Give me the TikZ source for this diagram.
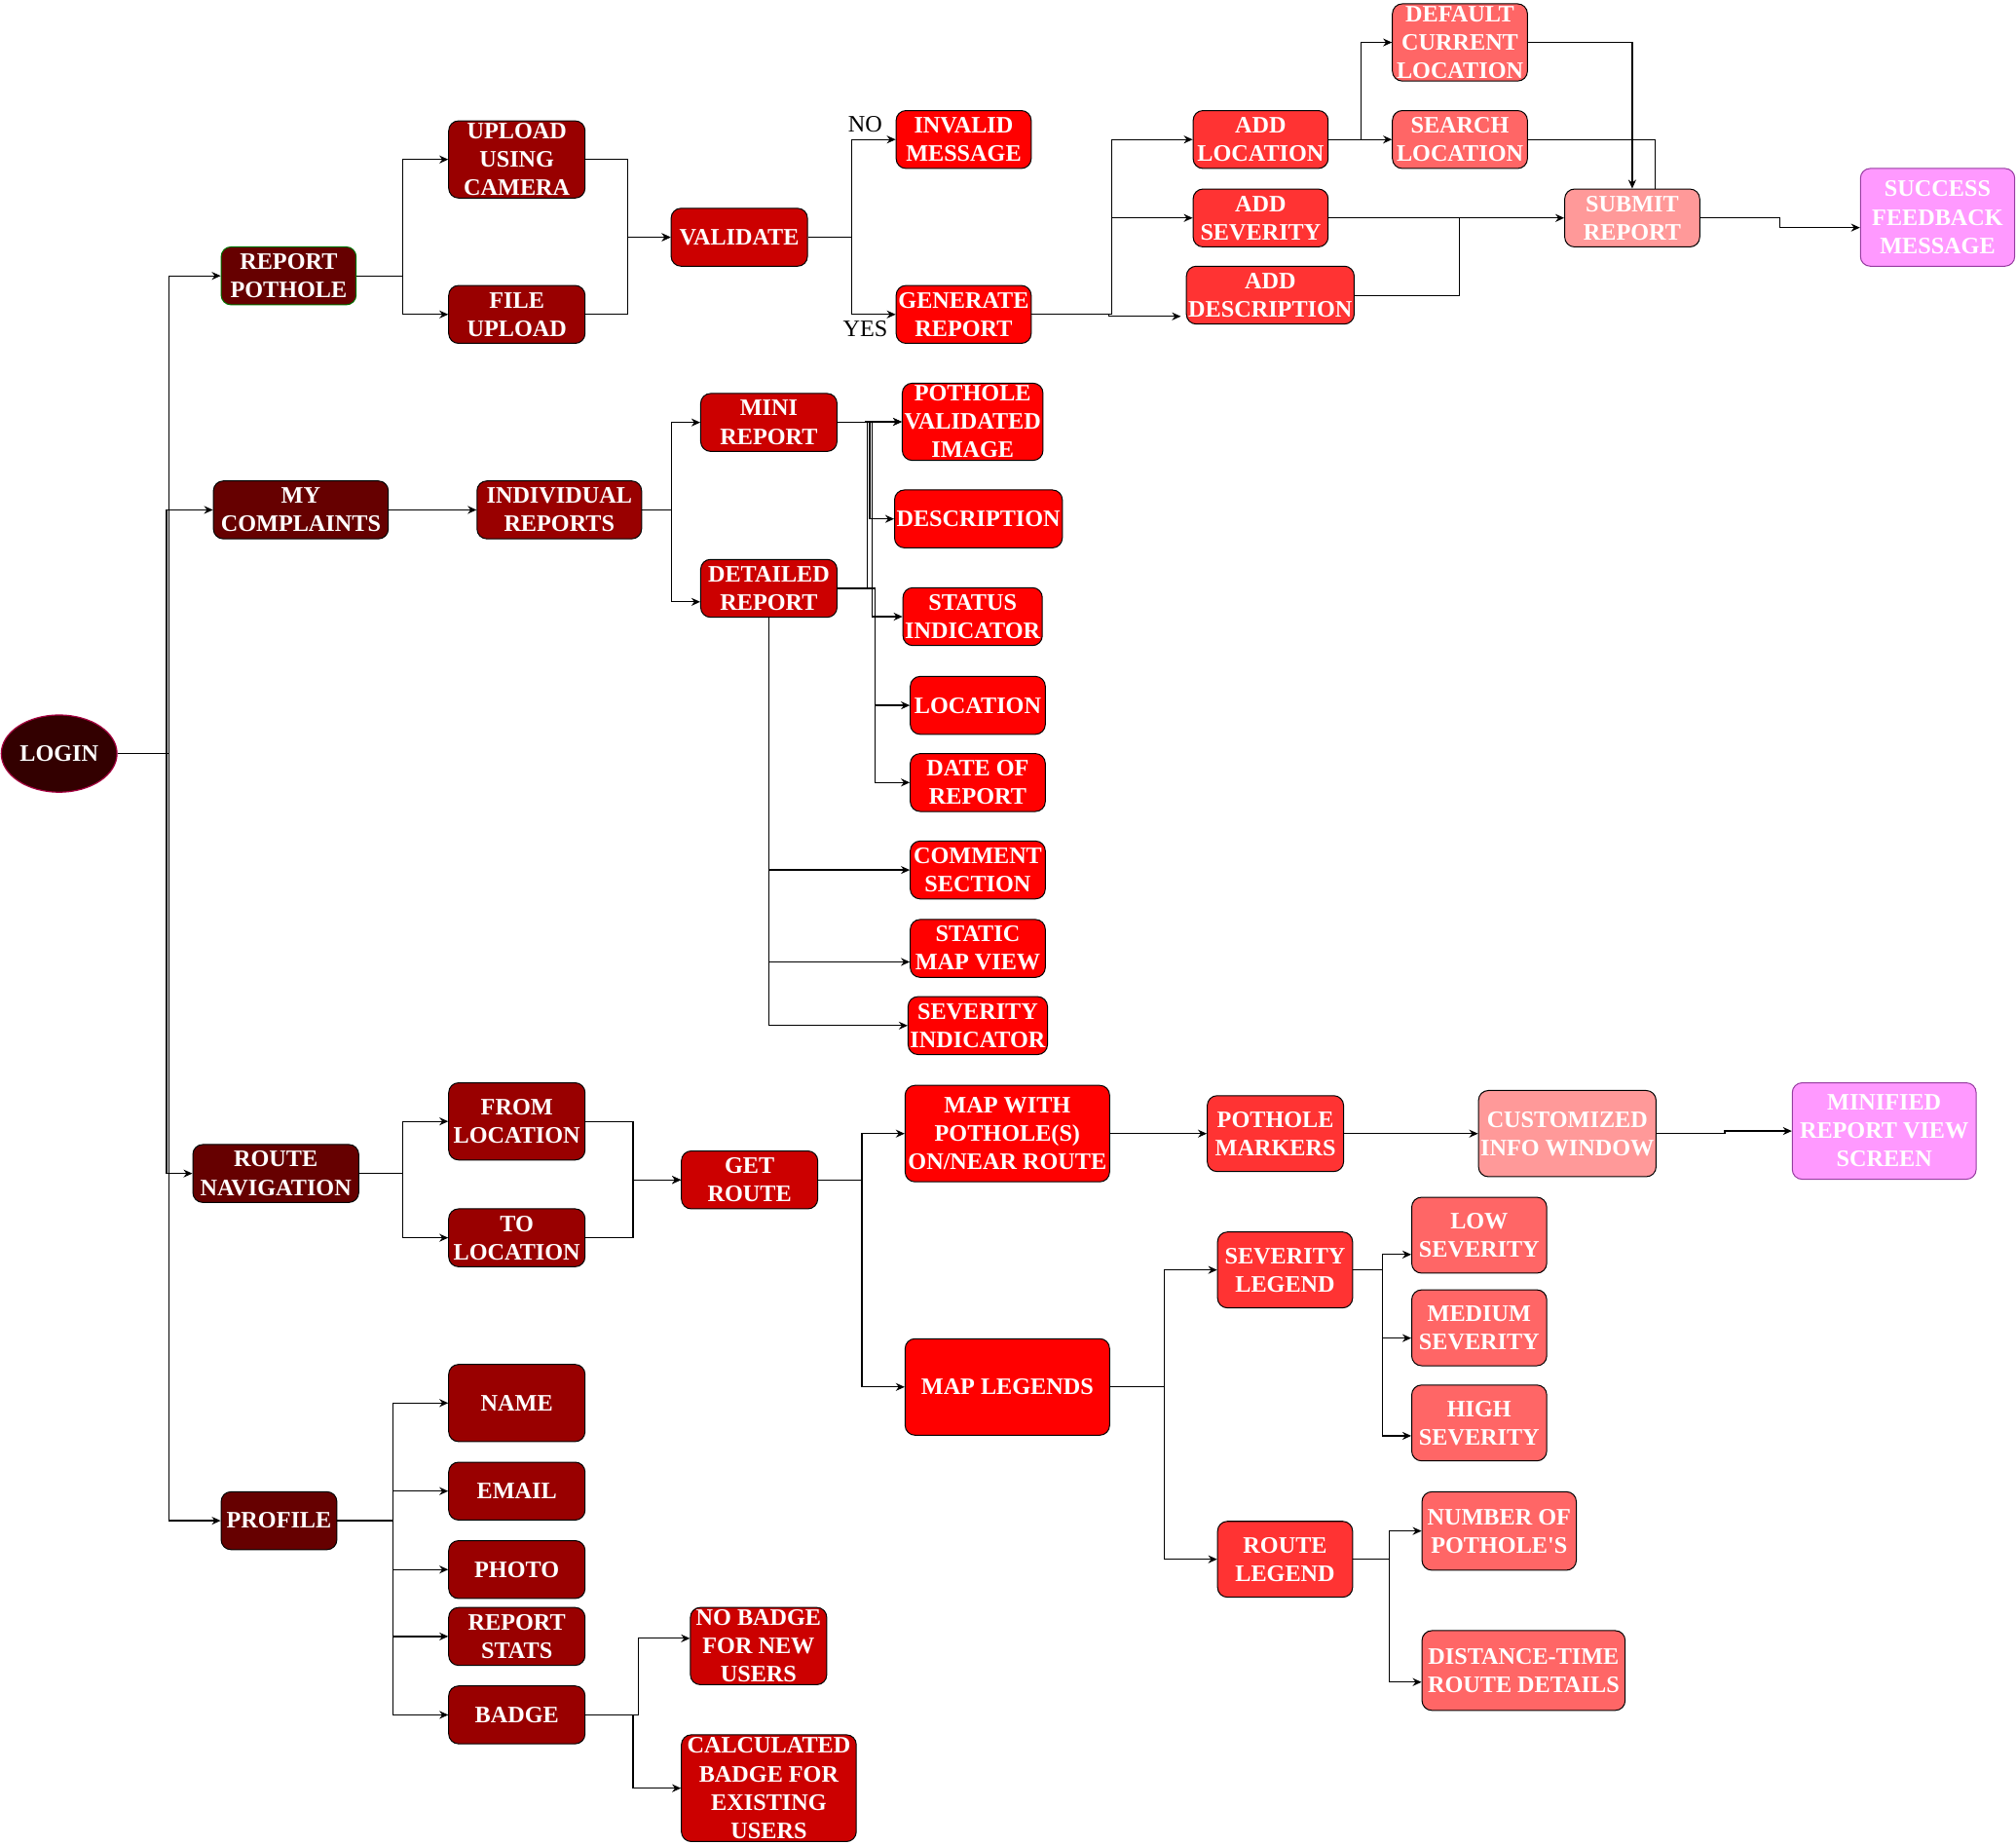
\documentclass[tikz,border=0pt]{standalone}
\usepackage{fontspec}
\setmainfont{Liberation Serif}
\usetikzlibrary{arrows.meta, calc, positioning, shapes.geometric}
\definecolor{loginfill}{RGB}{51,0,0}
\definecolor{loginedge}{RGB}{165,0,64}
\definecolor{lvonecol}{RGB}{102,0,0}
\definecolor{lvtwocol}{RGB}{153,0,0}
\definecolor{lvthreecol}{RGB}{204,0,0}
\definecolor{lvfourcol}{RGB}{255,0,0}
\definecolor{lvfivecol}{RGB}{255,51,51}
\definecolor{lvsixcol}{RGB}{255,102,102}
\definecolor{lvsevencol}{RGB}{255,153,153}
\definecolor{lveightcol}{RGB}{255,153,255}
\definecolor{pinkedge}{RGB}{150,60,160}

\begin{document}
\begin{tikzpicture}[x=0.023cm, y=-0.023cm, >={Stealth[length=4.5pt,width=4pt]},
    screen/.style={draw=black, line width=0.5pt, rounded corners=5pt, text=white, align=center,
        inner sep=1pt, font=\bfseries\fontsize{12}{14.4}\selectfont},
    sz/.style 2 args={minimum width=#1*0.023cm, minimum height=#2*0.023cm},
    lvone/.style={screen, fill=lvonecol},
    lvtwo/.style={screen, fill=lvtwocol},
    lvthree/.style={screen, fill=lvthreecol},
    lvfour/.style={screen, fill=lvfourcol},
    lvfive/.style={screen, fill=lvfivecol},
    lvsix/.style={screen, fill=lvsixcol},
    lvseven/.style={screen, fill=lvsevencol},
    lveight/.style={screen, fill=lveightcol, draw=pinkedge},
    tag/.style={inner sep=0pt, font=\fontsize{12}{14.4}\selectfont},
    link/.style={->, line width=0.6pt},
    elbow/.style={to path={-- ++(#1,0) |- (\tikztotarget) \tikztonodes}}]
    \useasboundingbox (0,0) rectangle (1568,1434);

    % Login
    \node[ellipse, draw=loginedge, fill=loginfill, text=white, inner sep=0pt, line width=0.6pt,
        font=\bfseries\fontsize{12}{14.4}\selectfont, sz={90}{60}] (login) at (46,586) {LOGIN};

    % Main menu
    \node[lvone, draw=green!45!black, sz={105}{45}] (report) at (224.5,214.5) {REPORT\\POTHOLE};
    \node[lvone, sz={136}{45}] (complaints) at (234,396.5) {MY\\COMPLAINTS};
    \node[lvone, sz={129}{45}] (routenav) at (214.5,912.5) {ROUTE\\NAVIGATION};
    \node[lvone, sz={90}{45}] (profile) at (217,1182.5) {PROFILE};

    % Report pothole
    \node[lvtwo, sz={106}{60}] (camera) at (402,124) {UPLOAD\\USING\\CAMERA};
    \node[lvtwo, sz={106}{45}] (fileup) at (402,244.5) {FILE\\UPLOAD};
    \node[lvthree, sz={106}{45}] (validate) at (575,184.5) {VALIDATE};
    \node[lvfour, sz={105}{45}] (invalid) at (749.5,108.5) {INVALID\\MESSAGE};
    \node[lvfour, sz={105}{45}] (generate) at (749.5,244.5) {GENERATE\\REPORT};
    \node[lvfive, sz={105}{45}] (addloc) at (980.5,108.5) {ADD\\LOCATION};
    \node[lvfive, sz={105}{45}] (addsev) at (980.5,169.5) {ADD\\SEVERITY};
    \node[lvfive, sz={128}{45}] (adddesc) at (988,229.5) {ADD\\DESCRIPTION};
    \node[lvsix, sz={105}{60}] (defloc) at (1135.5,33) {DEFAULT\\CURRENT\\LOCATION};
    \node[lvsix, sz={105}{45}] (searchloc) at (1135.5,108.5) {SEARCH\\LOCATION};
    \node[lvseven, sz={105}{45}] (submit) at (1269.5,169.5) {SUBMIT\\REPORT};
    \node[lveight, sz={120}{76}] (success) at (1507,169) {SUCCESS\\FEEDBACK\\MESSAGE};
    \node[tag] (no) at (673,97) {NO};
    \node[tag] (yes) at (673,256) {YES};

    % My complaints
    \node[lvtwo, sz={128}{45}] (individual) at (435,396.5) {INDIVIDUAL\\REPORTS};
    \node[lvthree, sz={106}{45}] (mini) at (598,328.5) {MINI\\REPORT};
    \node[lvthree, sz={106}{45}] (detailed) at (598,457.5) {DETAILED\\REPORT};
    \node[lvfour, sz={105}{60}] (image) at (756.5,328) {POTHOLE\\VALIDATED\\IMAGE};
    \node[lvfour, sz={128}{45}] (description) at (761,403.5) {DESCRIPTION};
    \node[lvfour, sz={105}{45}] (status) at (756.5,479.5) {STATUS\\INDICATOR};
    \node[lvfour, sz={105}{45}] (location) at (760.5,548.5) {LOCATION};
    \node[lvfour, sz={105}{45}] (date) at (760.5,608.5) {DATE OF\\REPORT};
    \node[lvfour, sz={105}{45}] (comment) at (760.5,676.5) {COMMENT\\SECTION};
    \node[lvfour, sz={105}{45}] (staticmap) at (760.5,737.5) {STATIC\\MAP VIEW};
    \node[lvfour, sz={105}{45}] (sevind) at (760.5,797.5) {SEVERITY\\INDICATOR};

    % Route navigation
    \node[lvtwo, sz={106}{60}] (fromloc) at (402,872) {FROM\\LOCATION};
    \node[lvtwo, sz={106}{45}] (toloc) at (402,962.5) {TO\\LOCATION};
    \node[lvthree, sz={106}{45}] (getroute) at (583,917.5) {GET\\ROUTE};
    \node[lvfour, sz={159}{75}] (mapwith) at (783.5,881.5) {MAP WITH\\POTHOLE(S)\\ON/NEAR ROUTE};
    \node[lvfour, sz={159}{75}] (legends) at (783.5,1078.5) {MAP LEGENDS};
    \node[lvfive, sz={106}{59}] (markers) at (992,881.5) {POTHOLE\\MARKERS};
    \node[lvseven, sz={136}{67}] (infowin) at (1219,881.5) {CUSTOMIZED\\INFO WINDOW};
    \node[lveight, sz={143}{75}] (minified) at (1465.5,879.5) {MINIFIED\\REPORT VIEW\\SCREEN};
    \node[lvfive, sz={105}{59}] (sevlegend) at (999.5,987.5) {SEVERITY\\LEGEND};
    \node[lvfive, sz={105}{59}] (routelegend) at (999.5,1212.5) {ROUTE\\LEGEND};
    \node[lvsix, sz={105}{59}] (low) at (1150.5,960.5) {LOW\\SEVERITY};
    \node[lvsix, sz={105}{59}] (medium) at (1150.5,1032.5) {MEDIUM\\SEVERITY};
    \node[lvsix, sz={105}{59}] (high) at (1150.5,1106.5) {HIGH\\SEVERITY};
    \node[lvsix, sz={120}{61}] (count) at (1166,1190.5) {NUMBER OF\\POTHOLE\textquotesingle S};
    \node[lvsix, sz={158}{62}] (distance) at (1185,1299) {DISTANCE-TIME\\ROUTE DETAILS};

    % Profile
    \node[lvtwo, sz={106}{60}] (name) at (402,1091) {NAME};
    \node[lvtwo, sz={106}{45}] (email) at (402,1159.5) {EMAIL};
    \node[lvtwo, sz={106}{45}] (photo) at (402,1220.5) {PHOTO};
    \node[lvtwo, sz={106}{45}] (stats) at (402,1272.5) {REPORT\\STATS};
    \node[lvtwo, sz={106}{45}] (badge) at (402,1333.5) {BADGE};
    \node[lvthree, sz={106}{60}] (nobadge) at (590,1280) {NO BADGE\\FOR NEW\\USERS};
    \node[lvthree, sz={136}{83}] (calcbadge) at (598,1390.5) {CALCULATED\\BADGE FOR\\EXISTING\\USERS};

    % Connectors: login
    \draw[link] (login.east) to[elbow=40] (report.west);
    \draw[link] (login.east) to[elbow=38] (complaints.west);
    \draw[link] (login.east) to[elbow=38] (routenav.west);
    \draw[link] (login.east) to[elbow=40] (profile.west);

    % Connectors: report pothole
    \draw[link] (report.east) to[elbow=36] (camera.west);
    \draw[link] (report.east) to[elbow=36] (fileup.west);
    \draw[link] (camera.east) to[elbow=33] (validate.west);
    \draw[link] (fileup.east) to[elbow=33] (validate.west);
    \draw[link] (validate.east) to[elbow=34] (invalid.west);
    \draw[link] (validate.east) to[elbow=34] (generate.west);
    \draw[link] (generate.east) to[elbow=62] (addloc.west);
    \draw[link] (generate.east) to[elbow=62] (addsev.west);
    \draw[link] (generate.east) to[elbow=60] ($(adddesc.west)+(-4,16.5)$);
    \draw[link] (addloc.east) to[elbow=25] (defloc.west);
    \draw[link] (addloc.east) -- (searchloc.west);
    \draw[link] (defloc.east) -| (submit.north);
    \draw (searchloc.east) -| ($(submit.north)+(17.5,0)$);
    \draw[link] (addsev.east) -- (submit.west);
    \draw (adddesc.east) -| ($(addsev.east)+(102,0)$);
    \draw[link] (submit.east) to[elbow=62] ($(success.west)+(0,8)$);

    % Connectors: my complaints
    \draw[link] (complaints.east) -- (individual.west);
    \draw[link] (individual.east) to[elbow=23] (mini.west);
    \draw[link] (individual.east) to[elbow=23] ($(detailed.west)+(0,10.5)$);
    \draw[link] (mini.east) to[elbow=22] (image.west);
    \draw[link] (mini.east) to[elbow=25] (description.west);
    \draw[link] (mini.east) to[elbow=27] (status.west);
    \draw[link] (detailed.east) to[elbow=23] (image.west);
    \draw[link] (detailed.east) to[elbow=29] (location.west);
    \draw[link] (detailed.east) to[elbow=29] (date.west);
    \draw[link] (detailed.south) |- (comment.west);
    \draw[link] (detailed.south) |- ($(staticmap.west)+(0,10.5)$);
    \draw[link] (detailed.south) |- (sevind.west);

    % Connectors: route navigation
    \draw[link] (routenav.east) to[elbow=34] (fromloc.west);
    \draw[link] (routenav.east) to[elbow=34] (toloc.west);
    \draw[link] (fromloc.east) to[elbow=37] (getroute.west);
    \draw[link] (toloc.east) to[elbow=37] (getroute.west);
    \draw[link] (getroute.east) to[elbow=34] (mapwith.west);
    \draw[link] (getroute.east) to[elbow=34] (legends.west);
    \draw[link] (mapwith.east) -- (markers.west);
    \draw[link] (markers.east) -- (infowin.west);
    \draw[link] (infowin.east) to[elbow=53] (minified.west);
    \draw[link] (legends.east) to[elbow=42] (sevlegend.west);
    \draw[link] (legends.east) to[elbow=42] (routelegend.west);
    \draw[link] (sevlegend.east) to[elbow=23] ($(low.west)+(0,15)$);
    \draw[link] (sevlegend.east) to[elbow=23] ($(medium.west)+(0,8)$);
    \draw[link] (sevlegend.east) to[elbow=23] ($(high.west)+(0,10)$);
    \draw[link] (routelegend.east) to[elbow=28] (count.west);
    \draw[link] (routelegend.east) to[elbow=28] ($(distance.west)+(0,9)$);

    % Connectors: profile
    \draw[link] (profile.east) to[elbow=43] (name.west);
    \draw[link] (profile.east) to[elbow=43] (email.west);
    \draw[link] (profile.east) to[elbow=43] (photo.west);
    \draw[link] (profile.east) to[elbow=43] (stats.west);
    \draw[link] (profile.east) to[elbow=43] (badge.west);
    \draw[link] (badge.east) to[elbow=41] ($(nobadge.west)+(0,-6)$);
    \draw[link] (badge.east) to[elbow=37] (calcbadge.west);
\end{tikzpicture}
\end{document}
